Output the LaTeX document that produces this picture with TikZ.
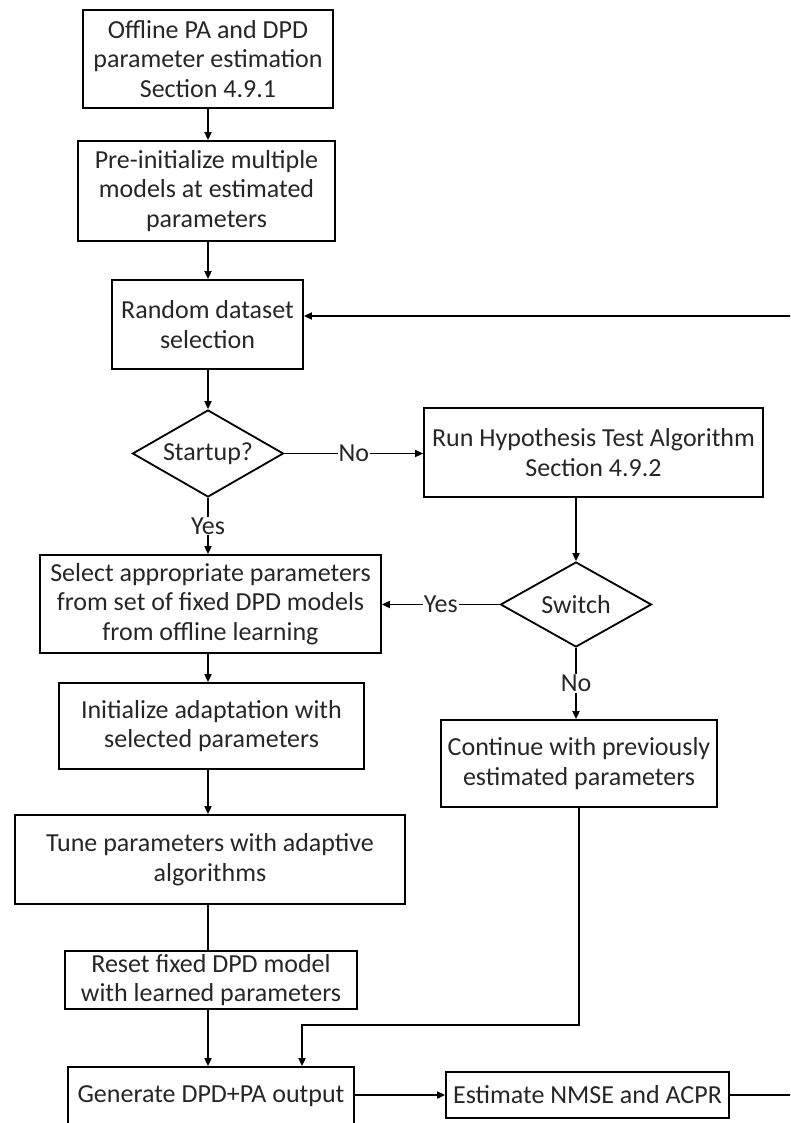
\documentclass[tikz,border=0pt]{standalone}
\usepackage{fontspec}
\setmainfont{Carlito}
\usetikzlibrary{arrows.meta,shapes.geometric}

\begin{document}
\begin{tikzpicture}[x=1pt,y=-1pt,
  line width=1.8pt,
  every node/.style={font=\fontsize{26}{29.5}\selectfont, text=black!85},
  box/.style={draw, rectangle, align=center, inner sep=0pt},
  decision/.style={draw, diamond, inner sep=0pt},
  tag/.style={fill=white, inner sep=1pt},
  arr/.style={-{Triangle[length=8pt,width=7pt]}}
]
\useasboundingbox (0,0) rectangle (790,1123);
\clip (0,0) rectangle (790,1123);

% process boxes
\node[box, minimum width=250, minimum height=98] (off) at (208,59)
  {Offline PA and DPD\\parameter estimation\\Section 4.9.1};
\node[box, minimum width=257, minimum height=100] (pre) at (206.5,191)
  {Pre-initialize multiple\\models at estimated\\parameters};
\node[box, minimum width=191, minimum height=89] (rnd) at (207.5,324.5)
  {Random dataset\\selection};

% decision: startup
\node[decision, minimum width=151, minimum height=87] (st) at (208,453.5) {};
\node (stt) at (st.center) {Startup?};

\node[box, minimum width=339, minimum height=89] (hyp) at (593.5,452.5)
  {Run Hypothesis Test Algorithm\\Section 4.9.2};

% decision: switch
\node[decision, minimum width=151, minimum height=85] (sw) at (576,604.5) {};
\node (swt) at (sw.center) {Switch};

\node[box, minimum width=341, minimum height=98] (sel) at (210.5,604)
  {Select appropriate parameters\\from set of fixed DPD models\\from offline learning};
\node[box, minimum width=305, minimum height=86] (ini) at (211.5,726)
  {Initialize adaptation with\\selected parameters};
\node[box, minimum width=276, minimum height=87] (cont) at (579,763.5)
  {Continue with previously\\estimated parameters};
\node[box, minimum width=390, minimum height=89] (tune) at (210,859.5)
  {Tune parameters with adaptive\\algorithms};
\node[box, minimum width=292, minimum height=58] (rst) at (211,980)
  {Reset fixed DPD model\\with learned parameters};
\node[box, minimum width=286, minimum height=58] (gen) at (211,1096)
  {Generate DPD+PA output};
\node[box, minimum width=283, minimum height=46] (est) at (587.5,1095)
  {Estimate NMSE and ACPR};

% route points
\coordinate (j1) at (302,1025);
\coordinate (r1) at (800,1095);
\coordinate (r2) at (800,316);

% connectors
\draw[arr] (off.south -| st.center) -- (pre.north -| st.center);
\draw[arr] (pre.south -| st.center) -- (rnd.north -| st.center);
\draw[arr] (rnd.south -| st.north) -- (st.north);
\draw[arr] (st.south) -- node[tag] (ys1) {Yes} (sel.north -| st.center);
\draw[arr] (st.east) -- node[tag] (no1) {No} (hyp.west |- st.east);
\draw[arr] (hyp.south -| sw.north) -- (sw.north);
\draw[arr] (sw.west) -- node[tag, pos=0.5] (ys2) {Yes} (sel.east |- sw.west);
\draw[arr] (sw.south) -- node[tag] (no2) {No} (cont.north -| sw.south);
\draw[arr] (sel.south -| st.center) -- (ini.north -| st.center);
\draw[arr] (ini.south -| st.center) -- (tune.north -| st.center);
\draw (tune.south -| st.center) -- (rst.north -| st.center);
\draw[arr] (rst.south -| st.center) -- (gen.north -| st.center);
\draw[arr] (cont.south) |- (j1) -- (j1 |- gen.north);
\draw[arr] (gen.east |- est.west) -- (est.west);
\draw[arr] (est.east) -- (r1) -- (r2) -- (rnd.east |- r2);
\end{tikzpicture}
\end{document}
